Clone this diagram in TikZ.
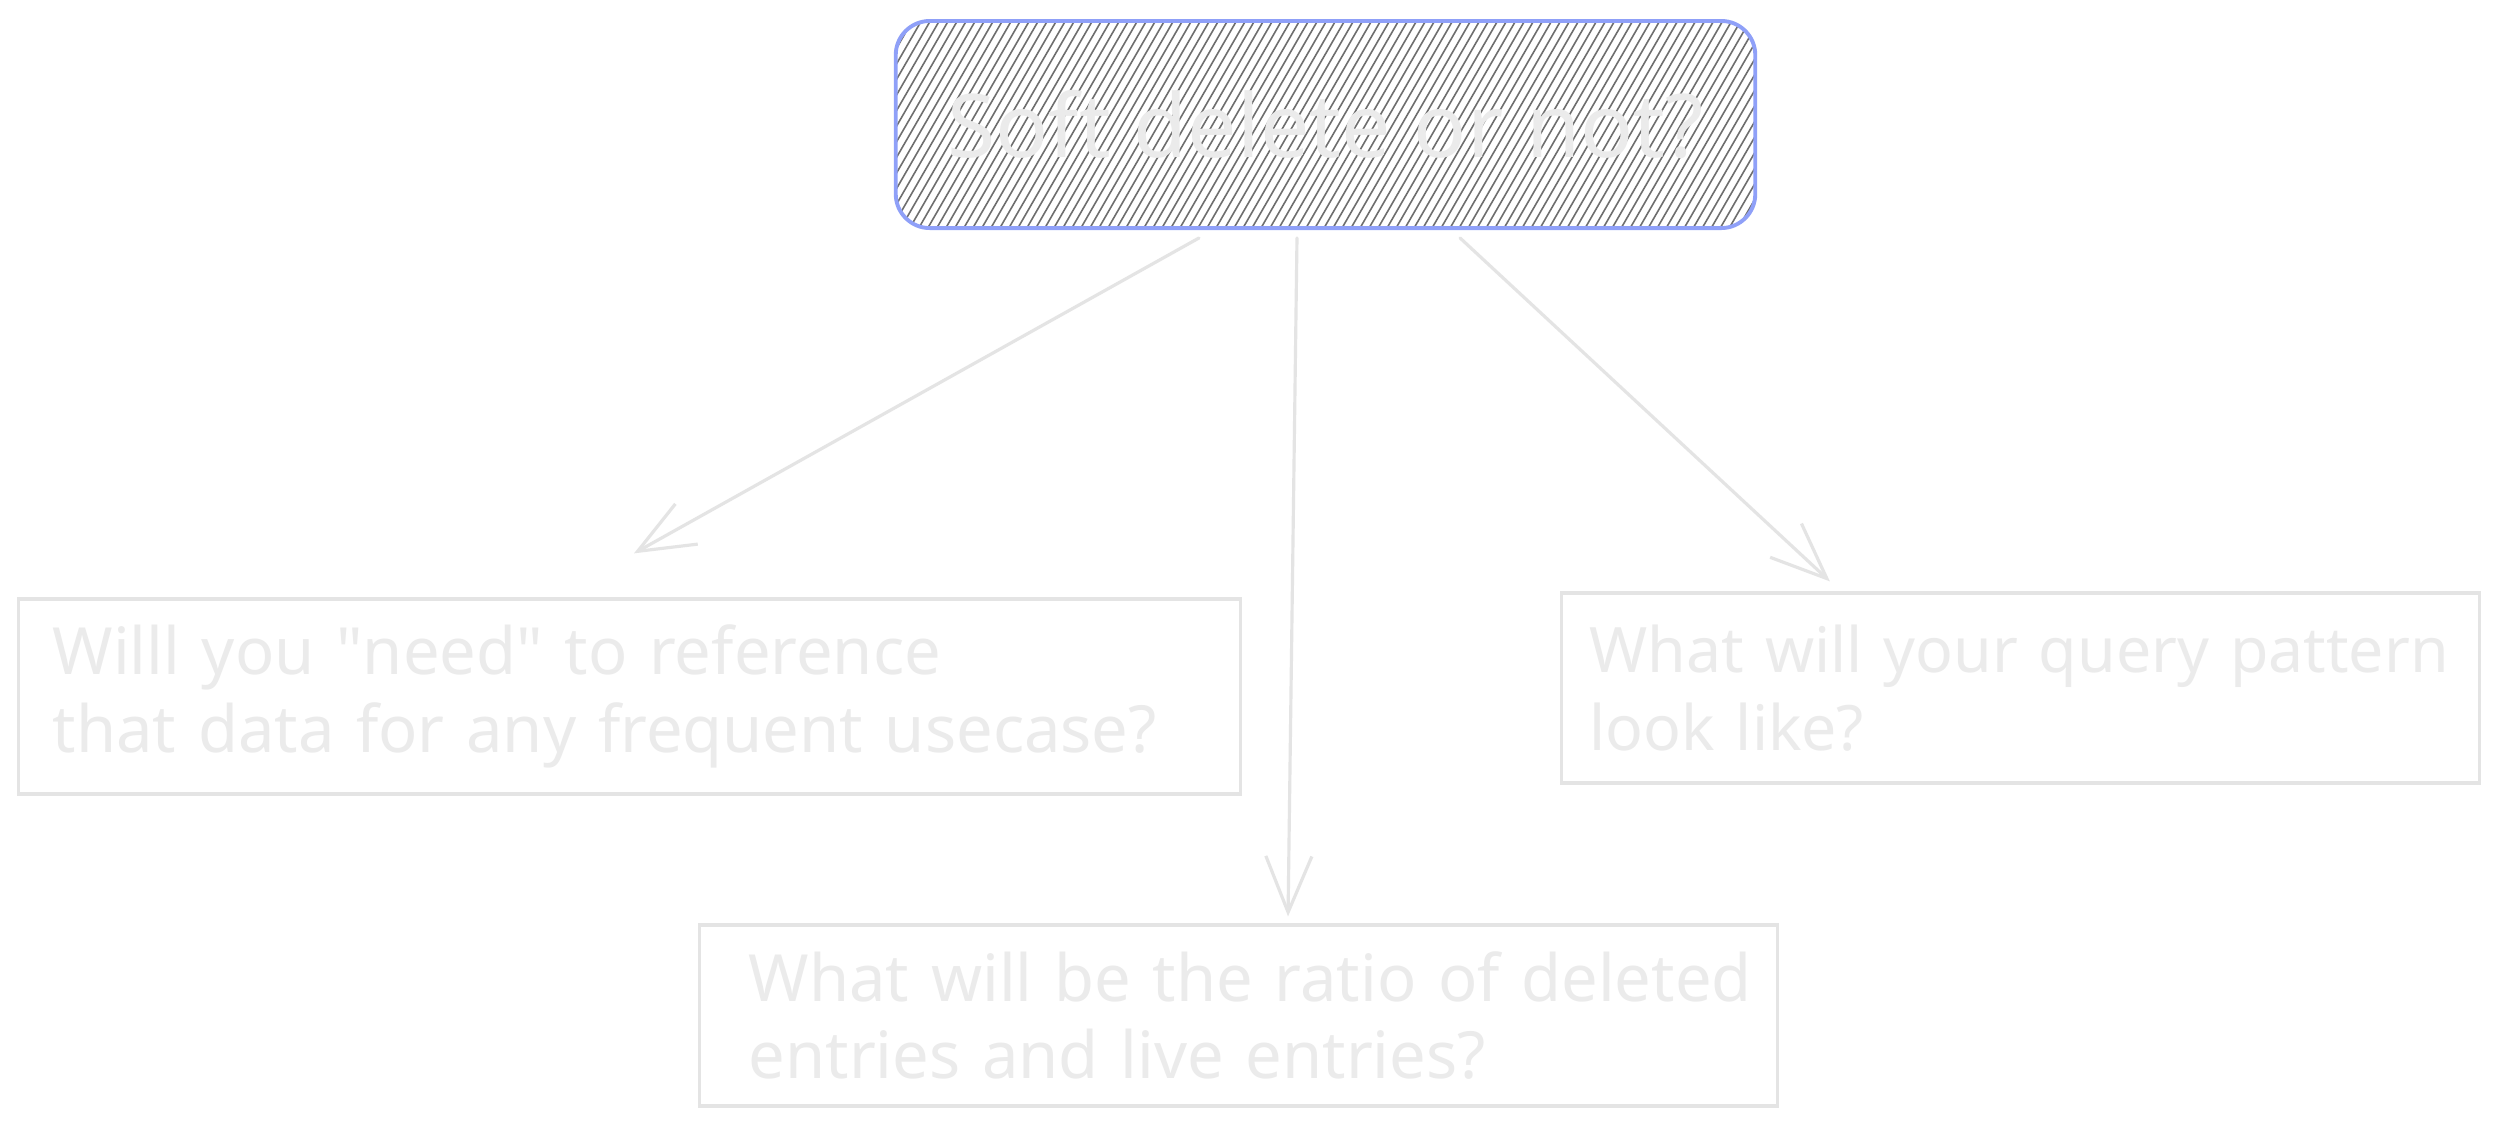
\documentclass[tikz,border=0pt]{standalone}
\usepackage{fontspec}
\setmainfont{Noto Sans}
\usepackage{xcolor}
\usetikzlibrary{arrows.meta}

\definecolor{inkgray}{HTML}{EBEBEB}
\definecolor{boxgray}{HTML}{E4E4E4}
\definecolor{edgeblue}{HTML}{8FA0F8}
\definecolor{hatchgray}{HTML}{6E6E6E}

\begin{document}
\begin{tikzpicture}[
		x=0.01cm, y=-0.01cm,
		>={Straight Barb[length=5.6mm,width=4.6mm]},
		conn/.style={->, draw=boxgray, line width=0.9pt, line cap=round},
		hatch/.style={draw=hatchgray, line width=0.45pt},
		topic/.style={draw=edgeblue, line width=1.1pt, rounded corners=3.4mm, text=inkgray,
			minimum width=8.59cm, minimum height=2.07cm, font=\fontsize{25}{30}\selectfont,
			path picture={
				\foreach \k in {0,...,116}
				\draw[hatch] ([xshift=\k*0.09cm-1.3cm]path picture bounding box.south west) -- ++(60:2.6cm);
			}},
		question/.style={draw=boxgray, line width=0.9pt, align=left, text=inkgray,
			font=\fontsize{18.5}{22}\selectfont}
		]
		\fill[white] (0,0) rectangle (2500,1129);
		\useasboundingbox (0,0) rectangle (2500,1129);
		
		% Main question
		\node[topic] (soft) at (1325.5,124.5) {Soft delete or not?};
		
		% Follow-up questions
		\node[question, inner xsep=0.34cm, text width=11.53cm, minimum width=12.21cm, minimum height=1.95cm] (reuse) at (629.5,696.5)
		{\mbox{Willl you \textquotedbl need\textquotedbl{} to reference}\\\mbox{that data for any frequent usecase?}};
		\node[question, font=\fontsize{17.8}{22}\selectfont, inner xsep=0.28cm, text width=8.61cm, minimum width=9.17cm, minimum height=1.90cm] (query) at (2020.5,688)
		{\mbox{What will your query pattern}\\\mbox{look like?}};
		\node[question, inner xsep=0.49cm, text width=9.79cm, minimum width=10.77cm, minimum height=1.81cm] (ratio) at (1238.5,1015.5)
		{\mbox{What will be the ratio of deleted}\\\mbox{entries and live entries?}};
		
		% Connectors
		\draw[conn] ([xshift=-1.265cm,yshift=-0.08cm]soft.south) -- ([xshift=0.045cm,yshift=0.44cm]reuse.north);
		\draw[conn] ([xshift=-0.285cm,yshift=-0.08cm]soft.south) -- ([xshift=0.495cm,yshift=0.07cm]ratio.north);
		\draw[conn] ([xshift=1.345cm,yshift=-0.08cm]soft.south) -- ([xshift=-1.905cm,yshift=0.1cm]query.north);
	\end{tikzpicture}
\end{document}
